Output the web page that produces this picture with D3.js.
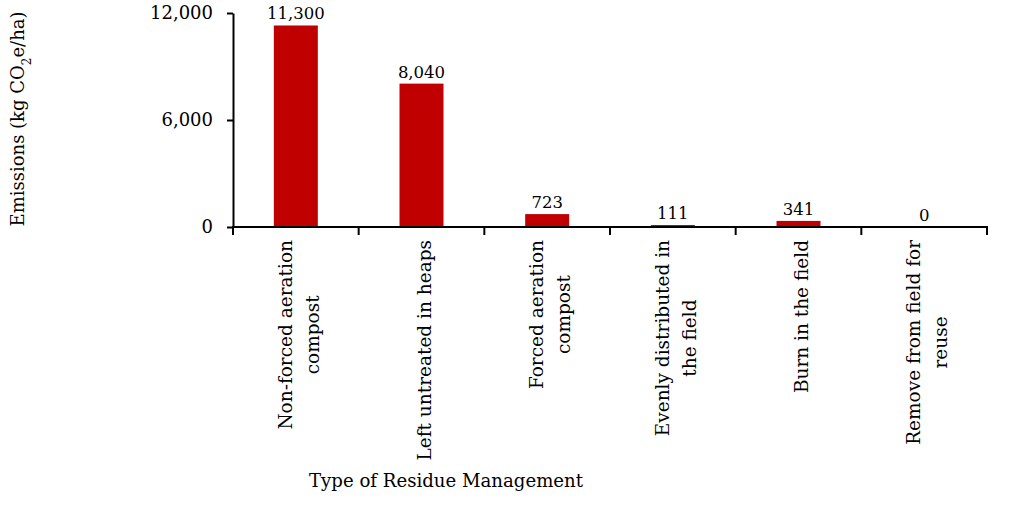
<!DOCTYPE html>
<html><head><meta charset="utf-8">
<script src="https://cdn.jsdelivr.net/npm/d3@7"></script>
<style>body{margin:0;background:#fff}svg{display:block}text{font-family:"DejaVu Serif",serif;fill:#000}</style>
</head><body><svg id="c" width="1033" height="508"></svg>
<script>
const categories = ["Non-forced aeration compost","Left untreated in heaps","Forced aeration compost","Evenly distributed in the field","Burn in the field","Remove from field for reuse"];
const labelLines = [["Non-forced aeration","compost"],["Left untreated in heaps"],["Forced aeration","compost"],["Evenly distributed in","the field"],["Burn in the field"],["Remove from field for","reuse"]];
const values = [11300, 8040, 723, 111, 341, 0];
const valueLabels = ["11,300","8,040","723","111","341","0"];
const yTicks = [0, 6000, 12000];
const yTickLabels = ["0","6,000","12,000"];

const svg = d3.select("#c");
const x = d3.scaleBand().domain(categories).range([233, 987]).paddingInner(0.65).paddingOuter(0.325);
const y = d3.scaleLinear().domain([0, 12000]).range([227, 13]);
const color = "#C00000";

// bars
svg.selectAll("rect.bar").data(values).join("rect")
  .attr("x", (d,i) => x(categories[i]))
  .attr("width", x.bandwidth())
  .attr("y", d => y(d))
  .attr("height", d => y(0) - y(d))
  .attr("fill", color);

// value labels
svg.selectAll("text.val").data(values).join("text")
  .attr("x", (d,i) => x(categories[i]) + x.bandwidth()/2)
  .attr("y", d => y(d) - 6)
  .attr("text-anchor", "middle")
  .style("font-size", "16.5px")
  .text((d,i) => valueLabels[i]);

// y axis
const yAxis = d3.axisLeft(y).tickValues(yTicks).tickFormat((d,i) => yTickLabels[i]).tickSizeInner(6).tickSizeOuter(0).tickPadding(14);
const gy = svg.append("g").attr("transform", "translate(233,0)").call(yAxis);
gy.select(".domain").attr("stroke", "#000").attr("stroke-width", 2);
gy.selectAll(".tick line").attr("stroke", "#000").attr("stroke-width", 2);
gy.selectAll(".tick text").style("font-family", "DejaVu Serif").style("font-size", "18px").attr("fill", "#000");

// x axis
const step = x.step();
const boundaries = d3.range(categories.length + 1).map(i => 233 + i * step);
svg.append("line").attr("x1", 232).attr("x2", 988).attr("y1", y(0)).attr("y2", y(0)).attr("stroke", "#000").attr("stroke-width", 2);
svg.selectAll("line.xt").data(boundaries).join("line")
  .attr("x1", d => d).attr("x2", d => d).attr("y1", y(0)).attr("y2", y(0) + 8)
  .attr("stroke", "#000").attr("stroke-width", 2);

// category labels
const fs = 18.5, spacing = 27;
categories.forEach((c, i) => {
  const cx = x(c) + x.bandwidth()/2 + 3;
  const g = svg.append("g").attr("transform", `translate(${cx},240) rotate(-90)`);
  const lines = labelLines[i];
  const texts = lines.map((ln, j) => g.append("text")
      .attr("y", (j - (lines.length - 1)/2) * spacing)
      .attr("dominant-baseline", "central")
      .attr("text-anchor", "middle")
      .style("font-size", fs + "px").text(ln));
  const maxW = d3.max(texts, t => t.node().getComputedTextLength());
  texts.forEach(t => t.attr("x", -maxW/2));
});

// axis titles
svg.append("text").attr("x", 446).attr("y", 487).attr("text-anchor", "middle")
  .style("font-size", "19px").attr("textLength", 274).attr("lengthAdjust", "spacingAndGlyphs")
  .text("Type of Residue Management");

const yt = svg.append("text").attr("transform", "translate(24,119) rotate(-90)").attr("text-anchor", "middle")
  .style("font-size", "18px");
yt.append("tspan").text("Emissions (kg CO");
yt.append("tspan").attr("baseline-shift", "sub").style("font-size", "12px").text("2");
yt.append("tspan").text("e/ha)");
</script></body></html>
